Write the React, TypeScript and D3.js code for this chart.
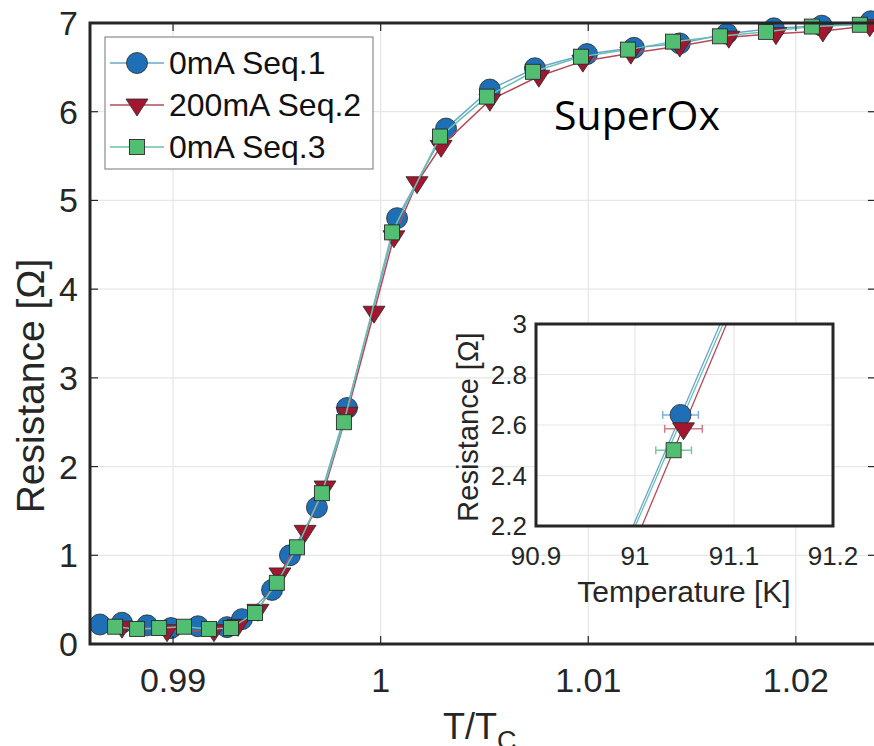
import React from "react";
import * as d3 from "d3";

// ---------- data (T/Tc, Resistance [Ohm]) ----------
const seq1X = [0.98648, 0.98754, 0.98875, 0.9899, 0.9912, 0.9926, 0.99332, 0.99477, 0.99563, 0.99693, 0.99838, 1.00079, 1.00315, 1.00526, 1.00743, 1.00994, 1.0122, 1.01441, 1.01668, 1.01894, 1.02125, 1.02361];
const seq1Y = [0.22, 0.24, 0.21, 0.18, 0.2, 0.19, 0.28, 0.61, 1.0, 1.54, 2.66, 4.8, 5.81, 6.25, 6.49, 6.65, 6.72, 6.77, 6.88, 6.94, 6.97, 7.02];

const seq2X = [0.98754, 0.98971, 0.99197, 0.99313, 0.99409, 0.99515, 0.99636, 0.99732, 0.99838, 0.99968, 1.00064, 1.00175, 1.00291, 1.00526, 1.00762, 1.00974, 1.01205, 1.01441, 1.01677, 1.01904, 1.0213, 1.02356];
const seq2Y = [0.19, 0.15, 0.15, 0.21, 0.38, 0.79, 1.27, 1.77, 2.6, 3.74, 4.59, 5.2, 5.61, 6.13, 6.4, 6.57, 6.66, 6.74, 6.84, 6.88, 6.91, 6.97];

const seq3X = [0.98721, 0.98827, 0.98933, 0.99053, 0.99173, 0.99279, 0.99395, 0.995, 0.99597, 0.99717, 0.99823, 1.00055, 1.00286, 1.00512, 1.00734, 1.00965, 1.01191, 1.01408, 1.01634, 1.01856, 1.02077, 1.02308];
const seq3Y = [0.195, 0.17, 0.18, 0.195, 0.17, 0.18, 0.35, 0.69, 1.09, 1.7, 2.5, 4.64, 5.72, 6.17, 6.45, 6.62, 6.7, 6.79, 6.85, 6.9, 6.96, 6.98];

const seriesNames = ["0mA Seq.1", "200mA Seq.2", "0mA Seq.3"];

// inset (Temperature [K], Resistance)
const insetPointT = [91.046, 91.049, 91.039];
const insetPointR = [2.64, 2.585, 2.5];
const insetErrT = [0.018, 0.019, 0.018];
const insetLineT1 = [90.998, 91.007, 91.0003];
const insetLineT2 = [91.086, 91.0925, 91.089];
const insetLineR = [2.2, 3.0];

const xTicks = [0.99, 1, 1.01, 1.02];
const yTicks = [0, 1, 2, 3, 4, 5, 6, 7];
const insetXTicks = [90.9, 91, 91.1, 91.2];
const insetYTicks = [2.2, 2.4, 2.6, 2.8, 3];

// ---------- styles ----------
const FONT = "'Liberation Sans', Arial, Helvetica, sans-serif";
const AXIS = "#262626";
const GRID = "#e6e6e6";
const markerFill = ["#1f6fb6", "#a3162f", "#52be72"];
const lineColor = ["#6aa6cf", "#b44a5c", "#6cc0b0"];
const errColor = ["#7fb0d6", "#d27a88", "#7cc6a6"];

type Shape = "circle" | "tri" | "square";
const shapes: Shape[] = ["circle", "tri", "square"];

function Marker({ shape, x, y, i, s = 1 }: { shape: Shape; x: number; y: number; i: number; s?: number }) {
  const stroke = "#2a2a2a";
  if (shape === "circle")
    return <circle cx={x} cy={y} r={10.5 * s} fill={markerFill[i]} stroke={stroke} strokeWidth={0.8} />;
  if (shape === "square") {
    const h = 7.5 * s;
    return <rect x={x - h} y={y - h} width={2 * h} height={2 * h} fill={markerFill[i]} stroke={stroke} strokeWidth={0.9} />;
  }
  const w = 11 * s;
  const top = 6 * s;
  const bot = 11 * s;
  return (
    <path
      d={`M${x - w},${y - top}L${x + w},${y - top}L${x},${y + bot}Z`}
      fill={markerFill[i]}
      stroke={stroke}
      strokeWidth={0.8}
    />
  );
}

export default function App() {
  const W = 874;
  const H = 746;
  const L = 90, R = 876, T = 23, B = 644;
  const x = d3.scaleLinear().domain([0.986, 1.02386]).range([L, R]);
  const y = d3.scaleLinear().domain([0, 7]).range([B, T]);

  const IL = 536, IR = 833, IT = 324, IB = 526;
  const ix = d3.scaleLinear().domain([90.9, 91.2]).range([IL, IR]);
  const iy = d3.scaleLinear().domain([2.2, 3]).range([IB, IT]);

  const series = [
    { xs: seq1X, ys: seq1Y },
    { xs: seq2X, ys: seq2Y },
    { xs: seq3X, ys: seq3Y },
  ].map((s) => s.xs.map((v, k) => [v, s.ys[k]] as [number, number]));

  const line = d3
    .line<[number, number]>()
    .x((d) => x(d[0]))
    .y((d) => y(d[1]))
    .curve(d3.curveLinear);

  const tickLen = 8;

  return (
    <svg
      width={W}
      height={H}
      style={{ position: "absolute", left: 0, top: 0, background: "#fff" }}
      fontFamily={FONT}
    >
      <rect x={0} y={0} width={W} height={H} fill="#fff" />
      {/* grid */}
      {xTicks.map((t) => (
        <line key={"gx" + t} x1={x(t)} x2={x(t)} y1={T} y2={B} stroke={GRID} strokeWidth={1.2} />
      ))}
      {yTicks.map((t) => (
        <line key={"gy" + t} x1={L} x2={R} y1={y(t)} y2={y(t)} stroke={GRID} strokeWidth={1.2} />
      ))}

      {/* series */}
      {series.map((pts, i) => (
        <g key={"s" + i}>
          <path d={line(pts) || ""} fill="none" stroke={lineColor[i]} strokeWidth={1.5} />
          {pts.map((p, k) => (
            <Marker key={k} shape={shapes[i]} x={x(p[0])} y={y(p[1])} i={i} />
          ))}
        </g>
      ))}

      {/* axes box */}
      <rect x={L} y={T} width={R - L} height={B - T} fill="none" stroke={AXIS} strokeWidth={3} />
      {xTicks.map((t) => (
        <g key={"tx" + t}>
          <line x1={x(t)} x2={x(t)} y1={B} y2={B - tickLen} stroke={AXIS} strokeWidth={1.2} />
          <line x1={x(t)} x2={x(t)} y1={T} y2={T + tickLen} stroke={AXIS} strokeWidth={1.2} />
          <text x={x(t)} y={692} textAnchor="middle" fontSize={34} fill={AXIS}>
            {String(t)}
          </text>
        </g>
      ))}
      {yTicks.map((t) => (
        <g key={"ty" + t}>
          <line x1={L} x2={L + tickLen} y1={y(t)} y2={y(t)} stroke={AXIS} strokeWidth={1.2} />
          <line x1={R} x2={R - tickLen} y1={y(t)} y2={y(t)} stroke={AXIS} strokeWidth={1.2} />
          <text x={78} y={y(t) + 12} textAnchor="end" fontSize={34} fill={AXIS}>
            {String(t)}
          </text>
        </g>
      ))}
      <text
        transform={`translate(44,${386}) rotate(-90)`}
        textAnchor="middle"
        fontSize={39}
        fill={AXIS}
      >
        Resistance [Ω]
      </text>
      <text x={443} y={739} fontSize={36} fill={AXIS}>
        T/T
        <tspan fontSize={27} dy={11}>C</tspan>
      </text>

      {/* legend */}
      <g>
        <rect x={105} y={37} width={268} height={132} fill="#fff" stroke="#8c8c8c" strokeWidth={1.2} />
        {seriesNames.map((n, i) => {
          const ry = 63 + i * 42;
          return (
            <g key={"lg" + i}>
              <line x1={110} x2={164} y1={ry} y2={ry} stroke={lineColor[i]} strokeWidth={1.5} />
              <Marker shape={shapes[i]} x={137} y={ry} i={i} />
              <text x={169} y={ry + 11} fontSize={32} fill="#111">
                {n}
              </text>
            </g>
          );
        })}
      </g>

      <text x={554} y={130} fontSize={41} fontFamily="'Open Sans', sans-serif" fill="#000">
        SuperOx
      </text>

      {/* inset */}
      <g>
        <rect x={IL} y={IT} width={IR - IL} height={IB - IT} fill="#fff" />
        {insetXTicks.map((t) => (
          <line key={"igx" + t} x1={ix(t)} x2={ix(t)} y1={IT} y2={IB} stroke={GRID} strokeWidth={1.2} />
        ))}
        {insetYTicks.map((t) => (
          <line key={"igy" + t} x1={IL} x2={IR} y1={iy(t)} y2={iy(t)} stroke={GRID} strokeWidth={1.2} />
        ))}
        {[0, 2, 1].map((i) => (
          <line
            key={"il" + i}
            x1={ix(insetLineT1[i])}
            x2={ix(insetLineT2[i])}
            y1={iy(insetLineR[0])}
            y2={iy(insetLineR[1])}
            stroke={lineColor[i]}
            strokeWidth={1.3}
          />
        ))}
        {[0, 1, 2].map((i) => {
          const cy = iy(insetPointR[i]);
          const xa = ix(insetPointT[i] - insetErrT[i]);
          const xb = ix(insetPointT[i] + insetErrT[i]);
          return (
            <g key={"ip" + i}>
              <line x1={xa} x2={xb} y1={cy} y2={cy} stroke={errColor[i]} strokeWidth={1.5} />
              <line x1={xa} x2={xa} y1={cy - 4} y2={cy + 4} stroke={errColor[i]} strokeWidth={1.5} />
              <line x1={xb} x2={xb} y1={cy - 4} y2={cy + 4} stroke={errColor[i]} strokeWidth={1.5} />
              <Marker shape={shapes[i]} x={ix(insetPointT[i])} y={cy} i={i} />
            </g>
          );
        })}
        <rect x={IL} y={IT} width={IR - IL} height={IB - IT} fill="none" stroke={AXIS} strokeWidth={3} />
        {insetXTicks.map((t) => (
          <text key={"itx" + t} x={ix(t)} y={565} textAnchor="middle" fontSize={26} fill={AXIS}>
            {String(t)}
          </text>
        ))}
        {insetYTicks.map((t) => (
          <text key={"ity" + t} x={527} y={iy(t) + 9} textAnchor="end" fontSize={26} fill={AXIS}>
            {String(t)}
          </text>
        ))}
        <text
          transform={`translate(478,${427}) rotate(-90)`}
          textAnchor="middle"
          fontSize={29}
          fill={AXIS}
        >
          Resistance [Ω]
        </text>
        <text x={684} y={602} textAnchor="middle" fontSize={30} fill={AXIS}>
          Temperature [K]
        </text>
      </g>
    </svg>
  );
}
